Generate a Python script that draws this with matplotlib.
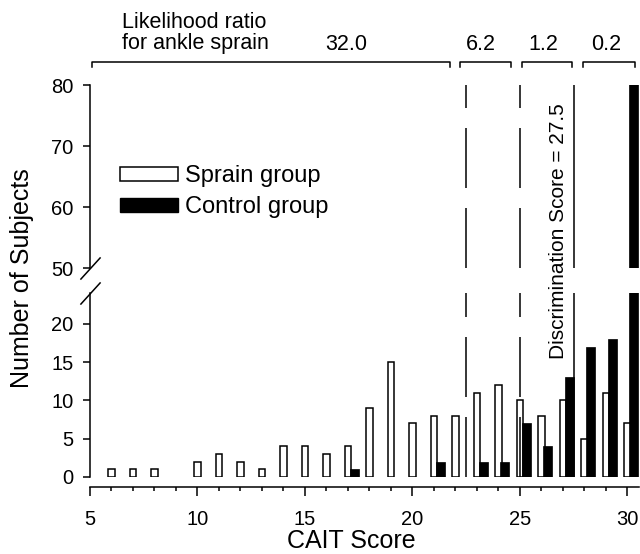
import numpy as np
import matplotlib
matplotlib.use("Agg")
import matplotlib.pyplot as plt
from matplotlib.patches import Patch
from matplotlib.transforms import blended_transform_factory

plt.rcParams['font.family'] = ['Liberation Sans', 'DejaVu Sans']
plt.rcParams['lines.scale_dashes'] = False

# CAIT scores and number of subjects per score
scores = np.arange(6, 31)
sprain = [1, 1, 1, 0, 2, 3, 2, 1, 4, 4, 3, 4, 9, 15, 7, 8, 8, 11, 12, 10, 8, 10, 5, 11, 7]
control = [0, 0, 0, 0, 0, 0, 0, 0, 0, 0, 0, 1, 0, 0, 0, 2, 0, 2, 2, 7, 4, 13, 17, 18, 95]

# cut-off lines and likelihood ratio brackets
cutoffs = [22.5, 25.0, 27.5]
bracket_lo = [5.1, 22.2, 25.1, 27.95]
bracket_hi = [21.75, 24.6, 27.45, 30.35]
bracket_lbl = ['32.0', '6.2', '1.2', '0.2']
lbl_x = [16.9, 23.2, 26.1, 29.0]

fig = plt.figure(figsize=(6.4, 5.54), dpi=100)
ax_lo = fig.add_axes([0.1406, 0.1390, 0.858, 0.3321])
ax_hi = fig.add_axes([0.1406, 0.5162, 0.858, 0.3303])

lw = 1.1
sp = np.array(sprain)
ct = np.array(control)
for ax in (ax_lo, ax_hi):
    ax.bar(scores[sp > 0], sp[sp > 0], width=0.3, color='white',
           edgecolor='black', linewidth=lw, zorder=2)
    ax.bar(scores[ct > 0] + 0.1, ct[ct > 0], width=0.4, align='edge',
           color='black', edgecolor='black', linewidth=0.5, zorder=3)
    ax.set_xlim(5, 30.55)
    for s in ('top', 'right'):
        ax.spines[s].set_visible(False)
    ax.spines['left'].set_linewidth(lw)
    ax.spines['bottom'].set_linewidth(lw)
    ax.tick_params(axis='y', direction='out', length=5, width=lw, labelsize=14.5, pad=7)

ax_lo.set_ylim(0, 24)
ax_hi.set_ylim(50, 80)

for ax, (y0, y1) in ((ax_lo, (0, 24)), (ax_hi, (50, 80))):
    for c in cutoffs[:2]:
        ax.plot([c, c], [y0, y1], color='black', lw=lw, dashes=(43.2, 14.4), zorder=2.5)
    ax.plot([cutoffs[2], cutoffs[2]], [y0, y1], color='black', lw=lw, zorder=2.5)

ax_lo.set_yticks([0, 5, 10, 15, 20])
ax_hi.set_yticks([50, 60, 70, 80])
ax_hi.spines['bottom'].set_visible(False)
ax_hi.tick_params(axis='x', bottom=False, labelbottom=False)

ax_lo.spines['bottom'].set_position(('outward', 7))
ax_lo.set_xticks([5, 10, 15, 20, 25, 30])
ax_lo.set_xticks(np.arange(6, 31), minor=True)
ax_lo.tick_params(axis='x', which='major', direction='out', length=6.5, width=lw,
                  labelsize=14.5, pad=10)
ax_lo.tick_params(axis='x', which='minor', direction='out', length=3, width=lw)

fig.text(351 / 640, 1 - 541 / 554, 'CAIT Score', ha='center', va='center', fontsize=18)
fig.text(22 / 640, 1 - 278 / 554, 'Number of Subjects', rotation=90,
         ha='center', va='center', fontsize=18)

# axis break marks
for ax, yy in ((ax_lo, 1), (ax_hi, 0)):
    ax.plot([0], [yy], transform=ax.transAxes, marker=[(-1, -1.1), (1, 1.1)],
            markersize=16, color='black', mew=lw, linestyle='none', clip_on=False)

# likelihood ratio brackets
tr = blended_transform_factory(ax_hi.transData, fig.transFigure)
by = 1 - 62 / 554
tick = 5 / 554
for lo, hi, lb, lx in zip(bracket_lo, bracket_hi, bracket_lbl, lbl_x):
    fig.add_artist(plt.Line2D([lo, lo, hi, hi], [by - tick, by, by, by - tick],
                              transform=tr, color='black', lw=lw))
    fig.text(lx, 1 - 44 / 554, lb, transform=tr, ha='center', va='center', fontsize=15.5)
fig.text(6.5, 1 - 33 / 554, 'Likelihood ratio\nfor ankle sprain', transform=tr,
         ha='left', va='center', fontsize=15.5, linespacing=1.05)

fig.text(558 / 640, 1 - 231 / 554, 'Discrimination Score = 27.5', rotation=90,
         ha='center', va='center', fontsize=15)

handles = [Patch(facecolor='white', edgecolor='black', linewidth=lw),
           Patch(facecolor='black', edgecolor='black')]
ax_hi.legend(handles, ['Sprain group', 'Control group'], loc='upper left',
             bbox_to_anchor=(120 / 640, 1 - 165 / 554), bbox_transform=fig.transFigure,
             frameon=False, fontsize=17, handlelength=2.45, handleheight=0.55,
             handletextpad=0.3, labelspacing=0.4, borderpad=0, borderaxespad=0)

fig.savefig('out.png', dpi=100)
